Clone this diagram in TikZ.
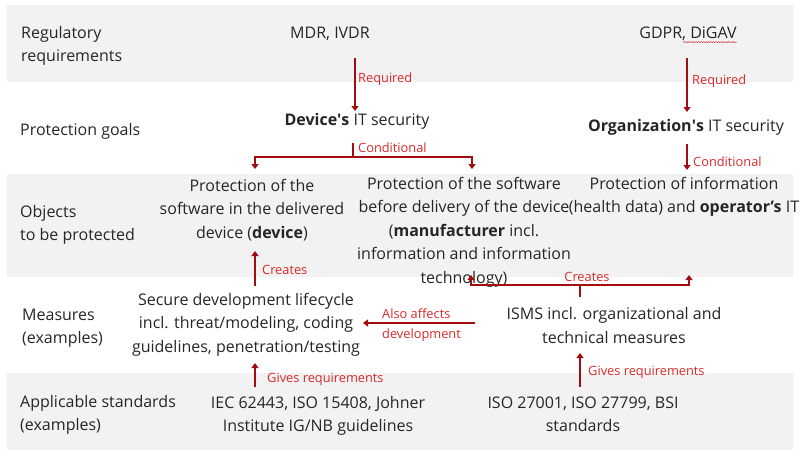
\documentclass[tikz,border=0pt]{standalone}
\usepackage{fontspec}
\setmainfont{Open Sans}
\usetikzlibrary{arrows.meta,decorations.pathmorphing}
\definecolor{band}{HTML}{F2F2F2}
\definecolor{arrred}{HTML}{A30D12}
\definecolor{labred}{HTML}{DC2828}
\definecolor{txtc}{HTML}{262626}
\begin{document}
\begin{tikzpicture}[x=1pt,y=-1pt,
  txt/.style={font=\fontsize{16}{23.5}\selectfont, text=txtc, inner sep=0pt, align=center},
  rowlab/.style={txt, anchor=west, align=left},
  lab/.style={font=\fontsize{12.8}{14}\selectfont, text=labred, inner sep=0pt, anchor=west},
  ln/.style={draw=arrred, line width=2.2pt},
  arr/.style={ln, -{Triangle[width=7pt,length=5pt]}}]
\useasboundingbox (0,0) rectangle (800,456);
% bands
\fill[band] (7,5) rectangle (793,82);
\fill[band] (7,174) rectangle (793,277);
\fill[band] (7,373) rectangle (793,450);
% row labels
\node[rowlab] (l1) at (21,46) {Regulatory\\requirements};
\node[rowlab] (l2) at (20,131) {Protection goals};
\node[rowlab] (l3) at (20,225) {Objects\\to be protected};
\node[rowlab] (l4) at (22,328) {Measures\\(examples)};
\node[rowlab] (l5) at (20,415) {Applicable standards\\(examples)};
% content
\node[txt] (mdr) at (330,34) {MDR, IVDR};
\node[txt] (gdpr) at (688,34) {GDPR, DiGAV};
\node[txt] (dev) at (357,121) {\textbf{Device\textquotesingle s} IT security};
\node[txt] (org) at (686,127) {\textbf{Organization\textquotesingle s} IT security};
\node[txt] (objdev) at (252,210) {Protection of the\\software in the delivered\\device (\textbf{device})};
\node[txt] (objmfr) at (464,232) {Protection of the software\\before delivery of the device\\(\textbf{manufacturer} incl.\\information and information\\technology)};
\node[txt] (objinfo) at (684,197) {Protection of information\\(health data) and \textbf{operator’s} IT};
\node[txt] (sdl) at (246,324.5) {Secure development lifecycle\\incl. threat/modeling, coding\\guidelines, penetration/testing};
\node[txt] (isms) at (614,325.5) {ISMS incl. organizational and\\technical measures};
\node[txt] (stdl) at (318,416) {IEC 62443, ISO 15408, Johner\\Institute IG/NB guidelines};
\node[txt] (stdr) at (583,414.5) {ISO 27001, ISO 27799, BSI\\standards};
% spell-check wave
\draw[labred, line width=0.5pt, decorate, decoration={snake, amplitude=0.6pt, segment length=2.5pt}]
  ([xshift=-54pt,yshift=-1pt]gdpr.south east) -- ([yshift=-1pt]gdpr.south east);
% connectors
\coordinate (r1) at (355,58);
\draw[arr] (r1) -- (r1 |- 0,111);
\node[lab] (lr1) at (358,79) {Required};
\coordinate (r2) at (687,58);
\draw[arr] (r2) -- (r2 |- 0,112);
\node[lab] (lr2) at (692,81) {Required};
\coordinate (c1) at (353,143);
\coordinate (c1j) at (353,157);
\draw[arr] (c1) -- (c1j) -| (255,169);
\draw[arr] (c1j) -| (472,169);
\node[lab] (lc1) at (358,148) {Conditional};
\coordinate (c2) at (687,144);
\draw[arr] (c2) -- (c2 |- 0,170);
\node[lab] (lc2) at (693,162) {Conditional};
\coordinate (k1) at (255,286);
\draw[arr] (k1) -- (k1 |- 0,251);
\node[lab] (lk1) at (262,270) {Creates};
\coordinate (k2) at (580,297);
\coordinate (k2j) at (580,285);
\draw[arr] (k2) -- (k2j) -| (471,275);
\draw[arr] (k2j) -| (689,275);
\node[lab, anchor=center] (lk2) at (587,277) {Creates};
\coordinate (a1) at (475,323);
\draw[arr] (a1) -- (363,323);
\node[lab] (la1) at (382,314) {Also affects};
\node[lab] (la2) at (382,335) {development};
\coordinate (g1) at (255,387);
\draw[arr] (g1) -- (g1 |- 0,363);
\node[lab] (lg1) at (267,379) {Gives requirements};
\coordinate (g2) at (580,387);
\draw[arr] (g2) -- (g2 |- 0,353);
\node[lab] (lg2) at (588,372) {Gives requirements};
\end{tikzpicture}
\end{document}
